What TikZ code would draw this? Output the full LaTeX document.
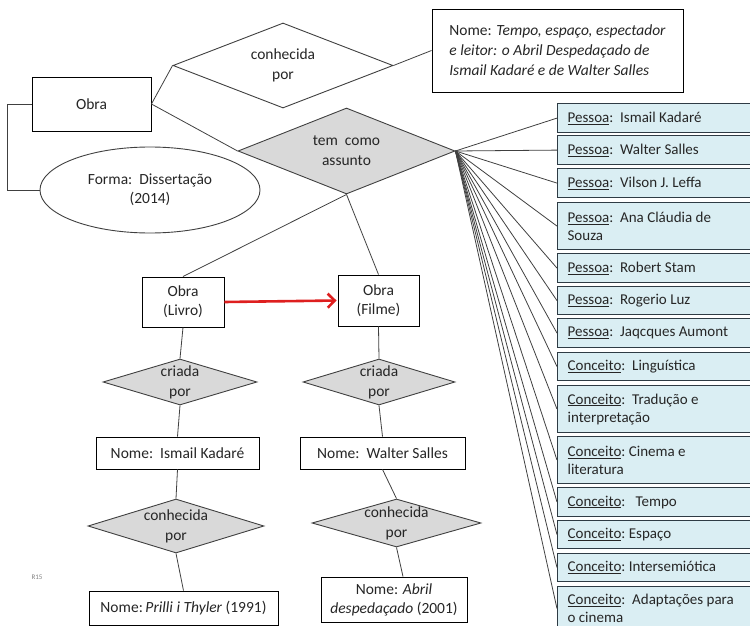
\documentclass[tikz,border=0pt]{standalone}
\usepackage{fontspec}
\setmainfont{Carlito}
\usetikzlibrary{shapes.geometric,arrows.meta}
\definecolor{ink}{HTML}{262626}
\definecolor{edge}{HTML}{404040}
\definecolor{relgray}{HTML}{D9D9D9}
\definecolor{subj}{HTML}{DAEEF3}
\definecolor{subjline}{HTML}{2E3B44}
\definecolor{arrowred}{HTML}{DE1F1F}

\begin{document}
\begin{tikzpicture}[x=1pt,y=-1pt,
  txt/.style={font=\fontsize{15.5}{19}\selectfont, text=ink},
  entity/.style={txt, draw=black, line width=0.9pt, fill=white, align=center, inner sep=0pt},
  rel/.style={diamond, draw=edge, line width=0.9pt, fill=relgray, inner sep=0pt},
  relw/.style={rel, fill=white},
  rellabel/.style={txt, font=\fontsize{15.5}{20}\selectfont, align=center, inner sep=0pt},
  subject/.style={txt, font=\fontsize{15}{18}\selectfont, draw=subjline, line width=1.2pt,
    fill=subj, anchor=north west, align=flush left, text width=185pt, inner xsep=10pt, inner ysep=0pt},
  link/.style={draw=edge, line width=0.8pt},
]
\useasboundingbox (0,0) rectangle (750,626);

% --- main work and its attributes ---
\node[entity, minimum width=119pt, minimum height=54pt] (obra) at (91.5,104) {Obra};
\node[relw, minimum width=220pt, minimum height=85pt,
      label={[rellabel]center:{conhecida\\por}}] (conhecida) at (283,65.5) {};
\node[entity, minimum width=251pt, minimum height=83pt, align=left,
      font=\fontsize{15.5}{20}\selectfont] (titulo) at (557.5,50.5)
  {Nome: \textit{Tempo, espaço, espectador}\\
   \textit{e leitor: o Abril Despedaçado de}\\
   \textit{Ismail Kadaré e de Walter Salles}};
\node[txt, ellipse, draw=edge, line width=0.9pt, fill=white, minimum width=220pt,
      minimum height=86pt, inner sep=0pt, align=center] (forma) at (150,190)
  {Forma:\ \ Dissertação\\(2014)};
\node[rel, minimum width=217pt, minimum height=86pt,
      label={[rellabel]center:{tem\ \ como\\assunto}}] (assunto) at (346.5,151) {};

% --- book branch ---
\node[entity, minimum width=82pt, minimum height=50pt] (livro) at (183,302) {Obra\\(Livro)};
\node[rel, minimum width=154pt, minimum height=46pt,
      label={[rellabel]center:{criada\\por}}] (criada1) at (180,382) {};
\node[entity, minimum width=163pt, minimum height=32pt] (nomek) at (177.5,453) {Nome:\ \ Ismail Kadaré};
\node[rel, minimum width=176pt, minimum height=54pt,
      label={[rellabel]center:{conhecida\\por}}] (conh1) at (176,526) {};
\node[entity, minimum width=189pt, minimum height=34pt] (prilli) at (183.5,608)
  {Nome:\,\textit{Prilli i Thyler} (1991)};

% --- film branch ---
\node[entity, minimum width=81pt, minimum height=51pt] (filme) at (378.5,300.5) {Obra\\(Filme)};
\node[rel, minimum width=152pt, minimum height=46pt,
      label={[rellabel]center:{criada\\por}}] (criada2) at (379,382) {};
\node[entity, minimum width=165pt, minimum height=32pt] (nomew) at (382.5,453) {Nome:\ \ Walter Salles};
\node[rel, minimum width=169pt, minimum height=48pt,
      label={[rellabel]center:{conhecida\\por}}] (conh2) at (396.5,523) {};
\node[entity, minimum width=146pt, minimum height=45pt] (abril) at (394,599.5)
  {Nome: \textit{Abril}\\\textit{despedaçado} (2001)};

\node[font=\fontsize{7}{8}\selectfont, text=gray] (r15) at (37,577) {R15};

% --- subjects ---
\node[subject, minimum height=29pt] (s1)  at (557,103) {\underline{Pessoa}:\ \ Ismail Kadaré};
\node[subject, minimum height=29pt] (s2)  at (557,135) {\underline{Pessoa}:\ \ Walter Salles};
\node[subject, minimum height=29pt] (s3)  at (557,168) {\underline{Pessoa}:\ \ Vilson J. Leffa};
\node[subject, minimum height=47pt] (s4)  at (557,202) {\underline{Pessoa}:\ \ Ana Cláudia de\\Souza};
\node[subject, minimum height=29pt] (s5)  at (557,253) {\underline{Pessoa}:\ \ Robert Stam};
\node[subject, minimum height=28pt] (s6)  at (557,286) {\underline{Pessoa}:\ \ Rogerio Luz};
\node[subject, minimum height=29pt] (s7)  at (557,318) {\underline{Pessoa}:\ \ Jaqcques Aumont};
\node[subject, minimum height=28pt] (s8)  at (557,352) {\underline{Conceito}:\ \ Linguística};
\node[subject, minimum height=47pt] (s9)  at (557,385) {\underline{Conceito}:\ \ Tradução e\\interpretação};
\node[subject, minimum height=47pt] (s10) at (557,436) {\underline{Conceito}:\ Cinema e\\literatura};
\node[subject, minimum height=29pt] (s11) at (557,487) {\underline{Conceito}:\ \ \ Tempo};
\node[subject, minimum height=28pt] (s12) at (557,520) {\underline{Conceito}:\ Espaço};
\node[subject, minimum height=28pt] (s13) at (557,553) {\underline{Conceito}:\ Intersemiótica};
\node[subject, minimum height=44pt] (s14) at (557,586) {\underline{Conceito}:\ \ Adaptações para\\o cinema};

% --- connectors ---
\draw[link] (obra.east) -- (conhecida.west);
\draw[link] (conhecida.east) -- (titulo.west);
\draw[link] (obra.east) -- (assunto.west);
\draw[link] (obra.west) -- ([xshift=-24pt]obra.west) |- (forma.west);
\draw[link] (assunto.south) -- (livro.north);
\draw[link] (assunto.south) -- (filme.north);
\foreach \i in {1,...,14} \draw[link] (assunto.east) -- (s\i.west);

\draw[link] (livro.south) -- (criada1.north);
\draw[link] (criada1.south) -- (nomek.north);
\draw[link] (nomek.south) -- (conh1.north);
\draw[link] (conh1.south) -- (prilli.north);

\draw[link] (filme.south) -- (criada2.north);
\draw[link] (criada2.south) -- (nomew.north);
\draw[link] (nomew.south) -- (conh2.north);
\draw[link] (conh2.south) -- ([xshift=9pt]abril.north);

\draw[arrowred, line width=2.6pt, shorten >=1pt,
      -{Straight Barb[length=7pt,width=14pt,line width=2.6pt]}] (livro.east) -- (filme.west);
\end{tikzpicture}
\end{document}
